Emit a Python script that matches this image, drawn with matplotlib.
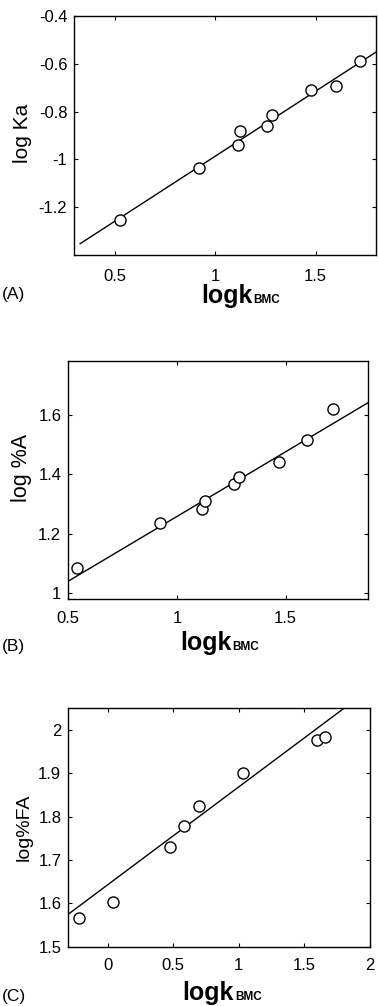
import matplotlib
matplotlib.use("Agg")
import matplotlib.pyplot as plt
from matplotlib.ticker import FuncFormatter

plt.rcParams["font.family"] = ["Liberation Sans", "DejaVu Sans"]
plt.rcParams["axes.unicode_minus"] = False

W, H = 378, 1006

# panel A: log Ka vs log k_BMC
a_x = [0.525, 0.918, 1.112, 1.122, 1.258, 1.283, 1.479, 1.603, 1.719]
a_y = [-1.253, -1.034, -0.939, -0.882, -0.862, -0.816, -0.711, -0.694, -0.590]
a_fit = (0.545, -1.532)          # slope, intercept
a_fit_x = [0.329, 1.80]

# panel B: log %A vs log k_BMC
b_x = [0.540, 0.922, 1.115, 1.129, 1.262, 1.286, 1.470, 1.600, 1.716]
b_y = [1.083, 1.236, 1.282, 1.308, 1.366, 1.390, 1.440, 1.515, 1.617]
b_fit = (0.435, 0.8225)
b_fit_x = [0.50, 1.88]

# panel C: log %FA vs log k_BMC
c_x = [-0.216, 0.043, 0.473, 0.581, 0.696, 1.031, 1.593, 1.657]
c_y = [1.567, 1.602, 1.731, 1.778, 1.825, 1.901, 1.978, 1.983]
c_fit = (0.226, 1.6428)
c_fit_x = [-0.30, 1.803]

panels = [
    dict(x=a_x, y=a_y, fit=a_fit, fit_x=a_fit_x, box=(74.3, 376, 16, 255),
         xlim=(0.3, 1.8), ylim=(-1.4, -0.4), xticks=[0.5, 1, 1.5],
         yticks=[-1.2, -1, -0.8, -0.6, -0.4], ylabel="log Ka", ylab_fs=15,
         pad=10, ylab_pos=(22, 133), tag="(A)", tag_y=294, xl=(201, 303)),
    dict(x=b_x, y=b_y, fit=b_fit, fit_x=b_fit_x, box=(68.3, 368.3, 361, 599),
         xlim=(0.5, 1.88), ylim=(0.98, 1.78), xticks=[0.5, 1, 1.5],
         yticks=[1, 1.2, 1.4, 1.6], ylabel="log %A", ylab_fs=15.5,
         pad=8.5, ylab_pos=(21, 468), tag="(B)", tag_y=647, xl=(180, 650)),
    dict(x=c_x, y=c_y, fit=c_fit, fit_x=c_fit_x, box=(68.3, 370, 708.3, 946.7),
         xlim=(-0.3, 2.0), ylim=(1.5, 2.05), xticks=[0, 0.5, 1, 1.5, 2],
         yticks=[1.5, 1.6, 1.7, 1.8, 1.9, 2.0], ylabel="log%FA", ylab_fs=14,
         pad=8, ylab_pos=(24, 827), tag="(C)", tag_y=997, xl=(182.7, 1000)),
]

fig = plt.figure(figsize=(W / 100, H / 100), dpi=100)
fmt = FuncFormatter(lambda v, p: "%g" % round(v, 3))

for p in panels:
    l, r, t, b = p["box"]
    ax = fig.add_axes([l / W, 1 - b / H, (r - l) / W, (b - t) / H])
    ax.plot(p["x"], p["y"], "o", mfc="white", mec="black", ms=8, mew=1.0, zorder=3)
    m, c = p["fit"]
    fx = p["fit_x"]
    ax.plot(fx, [m * v + c for v in fx], "-", color="black", lw=1.0, zorder=2)
    ax.set_xlim(*p["xlim"])
    ax.set_ylim(*p["ylim"])
    ax.set_xticks(p["xticks"])
    ax.set_yticks(p["yticks"])
    ax.xaxis.set_major_formatter(fmt)
    ax.yaxis.set_major_formatter(fmt)
    ax.tick_params(direction="in", length=3, width=0.8, top=True, right=True,
                   labelsize=12)
    ax.tick_params(axis="x", pad=p["pad"])
    ax.tick_params(axis="y", pad=5)
    for s in ax.spines.values():
        s.set_linewidth(1.0)

    fig.text(p["ylab_pos"][0] / W, 1 - p["ylab_pos"][1] / H, p["ylabel"],
             rotation=90, ha="center", va="center", fontsize=p["ylab_fs"])
    fig.text(2 / W, 1 - p["tag_y"] / H, p["tag"], ha="left", va="center",
             fontsize=12.5)
    xs, ys = p["xl"]
    t1 = fig.text(xs / W, 1 - ys / H, "logk", ha="left", va="baseline",
                  fontsize=18, fontweight="bold")
    fig.canvas.draw()
    bb = t1.get_window_extent()
    fig.text(bb.x1 / W + 1 / W, 1 - ys / H, "BMC", ha="left", va="baseline",
             fontsize=8.5, fontweight="bold")

fig.savefig("out.png", dpi=100)
